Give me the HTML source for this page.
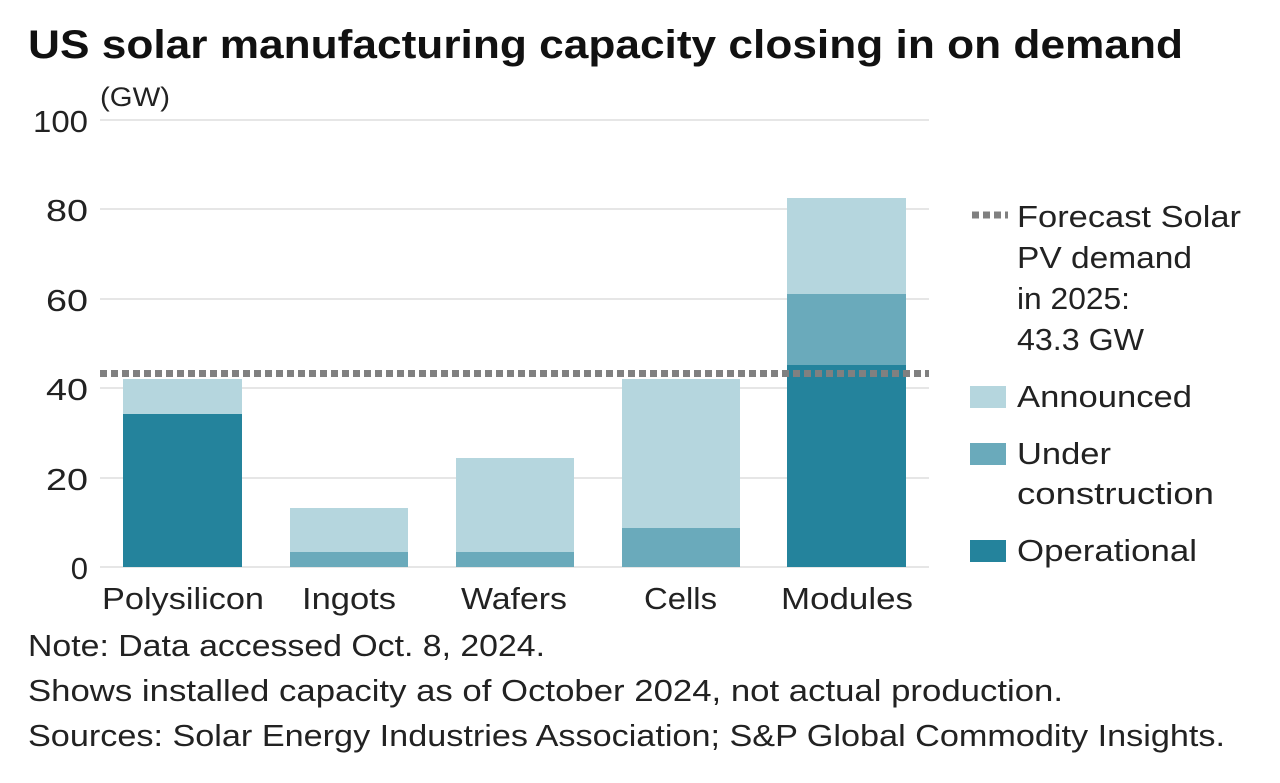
<!DOCTYPE html>
<html><head><meta charset="utf-8"><style>
html,body{margin:0;padding:0;background:#fff;}
svg{display:block;font-family:"Liberation Sans",sans-serif;}
</style></head><body>
<svg width="1280" height="783" viewBox="0 0 1280 783" xmlns="http://www.w3.org/2000/svg">
<rect width="1280" height="783" fill="#fff"/>
<text x="28" y="58" font-size="40" font-weight="bold" fill="#111" textLength="1155" lengthAdjust="spacingAndGlyphs">US solar manufacturing capacity closing in on demand</text>
<text x="100" y="106" font-size="27" fill="#222" textLength="70" lengthAdjust="spacingAndGlyphs">(GW)</text>
<g stroke="#d6d6d6" stroke-width="1.2">
<line x1="100" x2="929" y1="120" y2="120"/>
<line x1="100" x2="929" y1="209" y2="209"/>
<line x1="100" x2="929" y1="299" y2="299"/>
<line x1="100" x2="929" y1="388" y2="388"/>
<line x1="100" x2="929" y1="478" y2="478"/>
<line x1="100" x2="929" y1="567" y2="567"/>
</g>
<g font-size="31" fill="#222" text-anchor="end">
<text x="88" y="132" textLength="55" lengthAdjust="spacingAndGlyphs">100</text>
<text x="88" y="221" textLength="42" lengthAdjust="spacingAndGlyphs">80</text>
<text x="88" y="311" textLength="42" lengthAdjust="spacingAndGlyphs">60</text>
<text x="88" y="400" textLength="42" lengthAdjust="spacingAndGlyphs">40</text>
<text x="88" y="490" textLength="42" lengthAdjust="spacingAndGlyphs">20</text>
<text x="88" y="579">0</text>
</g>
<rect x="123" y="379" width="119" height="36" fill="#b5d6de"/>
<rect x="123" y="414" width="119" height="153" fill="#24839c"/>
<rect x="290" y="508" width="118" height="45" fill="#b5d6de"/>
<rect x="290" y="552" width="118" height="15" fill="#6aaabb"/>
<rect x="456" y="458" width="118" height="95" fill="#b5d6de"/>
<rect x="456" y="552" width="118" height="15" fill="#6aaabb"/>
<rect x="622" y="379" width="118" height="150" fill="#b5d6de"/>
<rect x="622" y="528" width="118" height="39" fill="#6aaabb"/>
<rect x="787" y="198" width="119" height="97" fill="#b5d6de"/>
<rect x="787" y="294" width="119" height="72" fill="#6aaabb"/>
<rect x="787" y="365" width="119" height="202" fill="#24839c"/>
<line x1="100" x2="929" y1="373.5" y2="373.5" stroke="#808080" stroke-width="7" stroke-dasharray="7 4"/>
<g font-size="31" fill="#222">
<text x="102" y="609" textLength="162" lengthAdjust="spacingAndGlyphs">Polysilicon</text>
<text x="302" y="609" textLength="94" lengthAdjust="spacingAndGlyphs">Ingots</text>
<text x="461" y="609" textLength="106" lengthAdjust="spacingAndGlyphs">Wafers</text>
<text x="644" y="609" textLength="73" lengthAdjust="spacingAndGlyphs">Cells</text>
<text x="781" y="609" textLength="132" lengthAdjust="spacingAndGlyphs">Modules</text>
</g>
<line x1="972" x2="1008" y1="215" y2="215" stroke="#808080" stroke-width="7" stroke-dasharray="7 4"/>
<g font-size="31" fill="#222">
<text x="1017" y="227" textLength="224" lengthAdjust="spacingAndGlyphs">Forecast Solar</text>
<text x="1017" y="268" textLength="175" lengthAdjust="spacingAndGlyphs">PV demand</text>
<text x="1017" y="309" textLength="113" lengthAdjust="spacingAndGlyphs">in 2025:</text>
<text x="1017" y="350" textLength="127" lengthAdjust="spacingAndGlyphs">43.3 GW</text>
<text x="1017" y="407" textLength="175" lengthAdjust="spacingAndGlyphs">Announced</text>
<text x="1017" y="464" textLength="94" lengthAdjust="spacingAndGlyphs">Under</text>
<text x="1017" y="504" textLength="197" lengthAdjust="spacingAndGlyphs">construction</text>
<text x="1017" y="561" textLength="180" lengthAdjust="spacingAndGlyphs">Operational</text>
</g>
<rect x="970" y="386" width="36" height="22" fill="#b5d6de"/>
<rect x="970" y="443" width="36" height="22" fill="#6aaabb"/>
<rect x="970" y="540" width="36" height="22" fill="#24839c"/>
<g font-size="31" fill="#222">
<text x="28" y="656" textLength="517" lengthAdjust="spacingAndGlyphs">Note: Data accessed Oct. 8, 2024.</text>
<text x="28" y="701" textLength="1035" lengthAdjust="spacingAndGlyphs">Shows installed capacity as of October 2024, not actual production.</text>
<text x="28" y="746" textLength="1197" lengthAdjust="spacingAndGlyphs">Sources: Solar Energy Industries Association; S&amp;P Global Commodity Insights.</text>
</g>
</svg>
</body></html>
